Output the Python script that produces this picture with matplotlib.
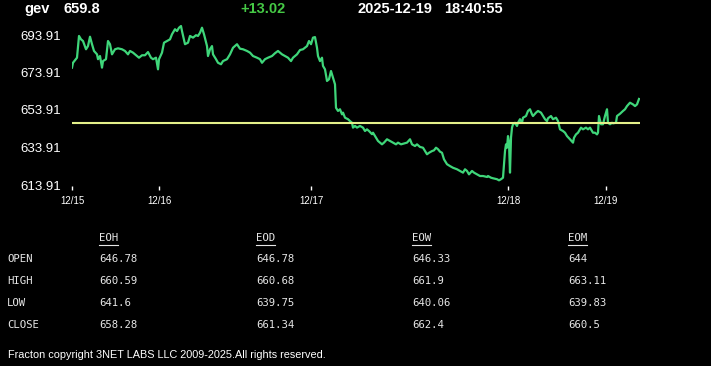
import matplotlib
matplotlib.use("Agg")
import matplotlib.pyplot as plt
from matplotlib.lines import Line2D

W, H = 711, 366

# header
symbol = "gev"
last_price = "659.8"
change = "+13.02"
date_str = "2025-12-19"
time_str = "18:40:55"

# intraday series (bar index, price)
bars = [0, 1, 5, 7, 9, 11, 14, 16, 18, 20, 22, 25, 26, 28, 30, 31, 34, 36, 38, 40, 43, 46, 50, 53, 56, 58, 61, 65,
        67, 70, 73, 76, 79, 81, 84, 86, 87, 90, 92, 95, 98, 100, 103, 105, 107, 109, 110, 113, 116, 118, 121,
        124, 126, 128, 130, 132, 135, 136, 138, 140, 141, 144, 146, 149, 151, 155, 158, 161, 165, 168, 171, 175,
        178, 181, 185, 188, 190, 193, 196, 200, 203, 206, 210, 213, 216, 219, 221, 225, 228, 231, 235, 237, 239,
        241, 243, 245, 246, 248,
        250, 251, 253, 255, 257, 259, 261, 263, 264, 266, 268, 270, 271, 273, 276, 278, 280, 281, 283, 285, 288,
        291, 293, 295, 297, 300, 301, 304, 306, 310, 312, 315, 318, 321, 324, 326, 329, 331, 335, 338, 340, 343,
        345, 348, 351, 353, 355, 357, 360, 362, 364, 366, 368, 370, 372, 375, 378, 381, 385, 388, 391, 393, 395,
        397, 400, 402, 405, 408, 411, 415, 416, 419, 421, 425, 427, 429, 431, 432, 433, 434, 435, 436, 437, 438,
        439, 440, 441, 443, 445, 446, 448, 450, 451, 454, 456, 458, 460, 461, 464, 466, 469, 471, 473, 475, 476,
        479, 481, 484, 486, 488, 491, 493, 495, 498, 501, 502, 504, 506, 509, 511, 514, 516, 518, 521, 523, 525,
        526, 527, 529, 531, 533, 535, 536, 538, 540, 541, 544, 545, 548, 551, 553, 555, 558, 561, 563, 565, 567]
prices = [676.5, 679.1, 681.8, 693.4, 691.6, 690.7, 686.3, 688.0, 693.0, 689.0, 685.4, 683.6, 681.0, 682.7, 676.5,
          680.0, 681.0, 690.7, 689.0, 683.6, 686.3, 686.8, 686.3, 685.4, 683.6, 685.4, 684.5, 682.7, 681.8, 683.1,
          683.1, 684.8, 681.8, 681.0, 681.8, 675.6, 681.0, 684.5, 689.8, 690.7, 691.6, 694.3, 697.0, 696.0, 697.8,
          698.7, 696.0, 689.0, 689.8, 693.4, 692.5,
          693.8, 693.4, 695.1, 697.8, 694.3, 688.0, 682.7, 686.3, 688.0, 683.6, 681.0, 679.1, 678.3, 680.0, 681.0,
          683.6, 687.1, 689.0, 686.6, 686.3, 685.4, 684.5, 682.7, 681.8, 681.0, 679.1, 681.0, 681.8, 682.7, 684.2,
          685.4, 683.6, 682.7, 681.8, 680.0, 681.8, 683.6, 685.9, 686.3, 688.0, 690.7, 689.0, 692.5, 692.8, 687.1,
          682.7, 680.0,
          681.8, 677.4, 675.6, 669.4, 670.3, 674.7, 671.1, 667.6, 655.1, 653.4, 654.3, 651.6, 652.5, 649.8, 649.0,
          648.0, 647.1, 644.5, 645.4, 644.5, 645.4, 644.5, 642.7, 643.6, 642.7, 641.0, 641.8, 639.1, 637.4, 635.6,
          636.5, 638.3, 637.4, 636.5, 635.6, 636.5, 635.6, 635.9, 636.5, 638.3, 635.6, 634.7, 635.6, 634.2, 633.8,
          632.0, 630.3, 631.1, 632.0, 632.4, 633.8, 633.0, 631.7, 631.1, 627.6, 625.0, 624.0, 623.1, 622.3, 621.4,
          620.5, 622.3, 621.4, 619.6, 621.4, 620.5, 619.6, 618.7, 618.7, 618.2, 618.7, 617.8, 617.5, 617.0, 616.4,
          617.0, 617.8, 625.0, 632.0, 635.6, 633.8, 640.0, 636.5, 620.5, 639.1, 644.5, 646.3, 647.1, 645.4, 647.1,
          649.0, 647.1, 649.8, 650.7, 653.4, 654.3, 651.6, 650.7, 652.5, 653.4, 652.5, 650.7, 649.0, 648.0, 649.5,
          650.7, 649.0, 649.8, 648.0, 643.6, 642.7, 641.8, 640.0, 638.3, 636.5, 639.1, 640.9, 641.8, 644.5, 643.6,
          644.5, 643.6, 644.5, 641.8, 641.8, 640.9, 641.8, 650.7, 646.3, 646.3, 650.7, 654.3, 647.1, 646.3, 647.1,
          646.8, 647.1, 650.7, 651.9, 653.4, 654.3, 656.0, 657.8, 656.9, 656.0, 656.9, 659.8]
assert len(bars) == len(prices), (len(bars), len(prices))

open_price = 646.78
y_ticks = [613.91, 633.91, 653.91, 673.91, 693.91]
x_tick_bars = [0, 87, 239, 436, 534]
x_tick_labels = ["12/15", "12/16", "12/17", "12/18", "12/19"]

# summary table
col_names = ["EOH", "EOD", "EOW", "EOM"]
row_names = ["OPEN", "HIGH", "LOW", "CLOSE"]
table_vals = [["646.78", "646.78", "646.33", "644"],
              ["660.59", "660.68", "661.9", "663.11"],
              ["641.6", "639.75", "640.06", "639.83"],
              ["658.28", "661.34", "662.4", "660.5"]]

fig = plt.figure(figsize=(W / 100, H / 100), dpi=100, facecolor="black")


def fx(px):
    return px / W


def fy(py):
    return 1 - py / H


ax = fig.add_axes([fx(72), fy(186), 568 / W, 166 / H], facecolor="black")
ax.plot(bars, prices, color="#3fd67a", lw=1.6)
ax.axhline(open_price, color="#e4f08a", lw=1.5)
ax.set_xlim(0, 568)
ax.set_ylim(693.91 - 151 / 1.875, 693.91 + 15 / 1.875)
for s in ax.spines.values():
    s.set_visible(False)
ax.set_yticks(y_ticks)
ax.set_yticklabels([f"{v:.2f}" for v in y_ticks], color="white", fontsize=9.5, family="Liberation Sans")
ax.tick_params(axis="y", length=0, pad=8)
ax.set_xticks(x_tick_bars)
ax.set_xticklabels(x_tick_labels, color="white", fontsize=7, family="Liberation Sans")
ax.tick_params(axis="x", length=3, width=1, color="white", pad=4, direction="out")

hdr = dict(color="white", fontsize=10.5, fontweight="bold", family="Liberation Sans", va="center")
fig.text(fx(24), fy(9), symbol, **hdr)
fig.text(fx(64), fy(9), last_price, **hdr)
fig.text(fx(240), fy(9), change, **{**hdr, "color": "#45c845"})
fig.text(fx(357), fy(9), date_str, **hdr)
fig.text(fx(444), fy(9), time_str, **hdr)

col_x = [99, 256, 412, 568]
row_y = [259, 281, 303, 325]
mono = dict(color="#e6e6e6", fontsize=7.7, family="DejaVu Sans Mono", va="center")
char_w = 0.602 * 7.7 * 100 / 72
for cx, name in zip(col_x, col_names):
    fig.text(fx(cx), fy(238), name, **mono)
    fig.add_artist(Line2D([fx(cx), fx(cx + len(name) * char_w)], [fy(245), fy(245)],
                          color="#e6e6e6", lw=0.8))
for ry, rname, vals in zip(row_y, row_names, table_vals):
    fig.text(fx(7), fy(ry), rname, **mono)
    for cx, v in zip(col_x, vals):
        fig.text(fx(cx), fy(ry), v, **mono)

fig.text(fx(8), fy(355), "Fracton copyright 3NET LABS LLC 2009-2025.All rights reserved.",
         color="white", fontsize=7.8, family="Liberation Sans", va="center")

fig.savefig("out.png", dpi=100, facecolor="black")
